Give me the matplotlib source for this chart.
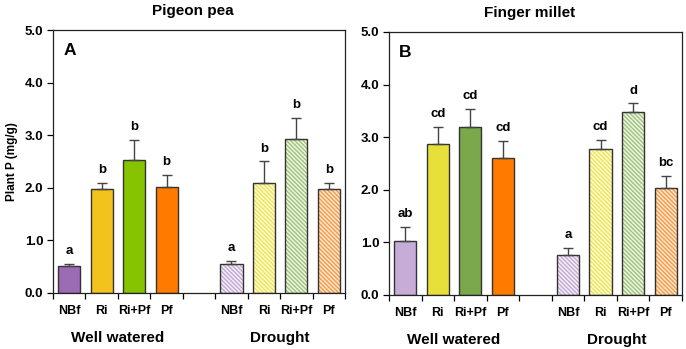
import matplotlib
matplotlib.use('Agg')
import matplotlib.pyplot as plt
import numpy as np

plt.rcParams['font.family'] = ['Liberation Sans', 'DejaVu Sans']
plt.rcParams['font.weight'] = 'bold'
plt.rcParams['hatch.linewidth'] = 1.0

# Data
treatments = ['NBf', 'Ri', 'Ri+Pf', 'Pf']
groups = ['Well watered', 'Drought']

pea_ww = [0.52, 1.98, 2.52, 2.01]
pea_ww_err = [0.03, 0.12, 0.39, 0.23]
pea_dr = [0.55, 2.10, 2.92, 1.98]
pea_dr_err = [0.05, 0.40, 0.40, 0.11]
pea_ww_sig = ['a', 'b', 'b', 'b']
pea_dr_sig = ['a', 'b', 'b', 'b']

millet_ww = [1.03, 2.87, 3.20, 2.60]
millet_ww_err = [0.27, 0.33, 0.33, 0.32]
millet_dr = [0.76, 2.77, 3.48, 2.04]
millet_dr_err = [0.14, 0.17, 0.16, 0.23]
millet_ww_sig = ['ab', 'cd', 'cd', 'cd']
millet_dr_sig = ['a', 'cd', 'd', 'bc']

pea_colors = ['#9b6cb4', '#f4c21c', '#86c300', '#ff7b00']
millet_colors = ['#c7acd8', '#e8e03a', '#7aa84a', '#ff7b00']
# drought bars: pale fill with fine hatch in a stronger tint
dr_fill = ['#f4eef7', '#fdfbd6', '#eef4e4', '#fde6cf']
dr_hatch = ['#c3a9d3', '#eee455', '#9dc47a', '#f59a45']

x_ww = np.arange(4)
x_dr = np.arange(5, 9)
width = 0.68


def draw_panel(ax, ww, ww_err, dr, dr_err, ww_sig, dr_sig, colors, letter, title):
    ax.bar(x_ww, ww, width, color=colors, edgecolor='#333333', linewidth=1.0, zorder=2)
    ax.errorbar(x_ww, ww, yerr=[np.zeros(4), ww_err], fmt='none', ecolor='#444444',
                elinewidth=1.0, capsize=3.5, capthick=1.0, zorder=3)
    for xi, v, fc, hc in zip(x_dr, dr, dr_fill, dr_hatch):
        ax.bar(xi, v, width, color=fc, edgecolor=hc, hatch='\\\\\\\\\\\\\\\\',
               linewidth=0, zorder=2)
        ax.bar(xi, v, width, color='none', edgecolor='#333333', linewidth=1.0, zorder=2.6)
    ax.errorbar(x_dr, dr, yerr=[np.zeros(4), dr_err], fmt='none', ecolor='#444444',
                elinewidth=1.0, capsize=3.5, capthick=1.0, zorder=3)

    for xs, vals, errs, sig in [(x_ww, ww, ww_err, ww_sig), (x_dr, dr, dr_err, dr_sig)]:
        for xi, v, e, s in zip(xs, vals, errs, sig):
            ax.annotate(s, (xi, v + e), xytext=(0, 5), textcoords='offset points',
                        ha='center', va='bottom', fontsize=9.5, fontweight='bold')

    ax.set_xlim(-0.5, 8.5)
    ax.set_ylim(0, 5)
    ax.set_yticks(np.arange(0, 5.01, 1.0))
    ax.set_yticklabels(['%.1f' % t for t in np.arange(0, 5.01, 1.0)], fontsize=9.5, fontweight='bold')
    ax.set_xticks(np.arange(-0.5, 8.6, 1.0))
    ax.set_xticklabels([])
    ax.set_xticks(list(x_ww) + list(x_dr), minor=True)
    ax.set_xticklabels(treatments + treatments, minor=True, fontsize=9, fontweight='bold')
    ax.tick_params(axis='x', which='minor', length=0, pad=9)
    ax.tick_params(axis='x', which='major', length=4, direction='out', width=0.9)
    ax.tick_params(axis='y', length=4, direction='out', width=0.9, pad=3)
    for sp in ax.spines.values():
        sp.set_linewidth(0.9)
        sp.set_color('#222222')

    ax.text(1.5, -0.145, groups[0], transform=ax.get_xaxis_transform(), ha='center',
            va='top', fontsize=11, fontweight='bold')
    ax.text(6.5, -0.145, groups[1], transform=ax.get_xaxis_transform(), ha='center',
            va='top', fontsize=11, fontweight='bold')
    ax.text(0.035, 0.95, letter, transform=ax.transAxes, ha='left', va='top',
            fontsize=12.5, fontweight='bold')
    ax.text(0.48, 1.045, title, transform=ax.transAxes, ha='center', va='bottom',
            fontsize=11, fontweight='bold')


fig = plt.figure(figsize=(6.86, 3.49), dpi=100)
ax1 = fig.add_axes([0.0773, 0.1605, 0.4257, 0.7535])
ax2 = fig.add_axes([0.567, 0.155, 0.427, 0.7535])

draw_panel(ax1, pea_ww, pea_ww_err, pea_dr, pea_dr_err, pea_ww_sig, pea_dr_sig,
           pea_colors, 'A', 'Pigeon pea')
draw_panel(ax2, millet_ww, millet_ww_err, millet_dr, millet_dr_err, millet_ww_sig, millet_dr_sig,
           millet_colors, 'B', 'Finger millet')

ax1.set_ylabel('Plant P (mg/g)', fontsize=8.5, fontweight='bold', labelpad=5)

fig.savefig('out.png', dpi=100)
